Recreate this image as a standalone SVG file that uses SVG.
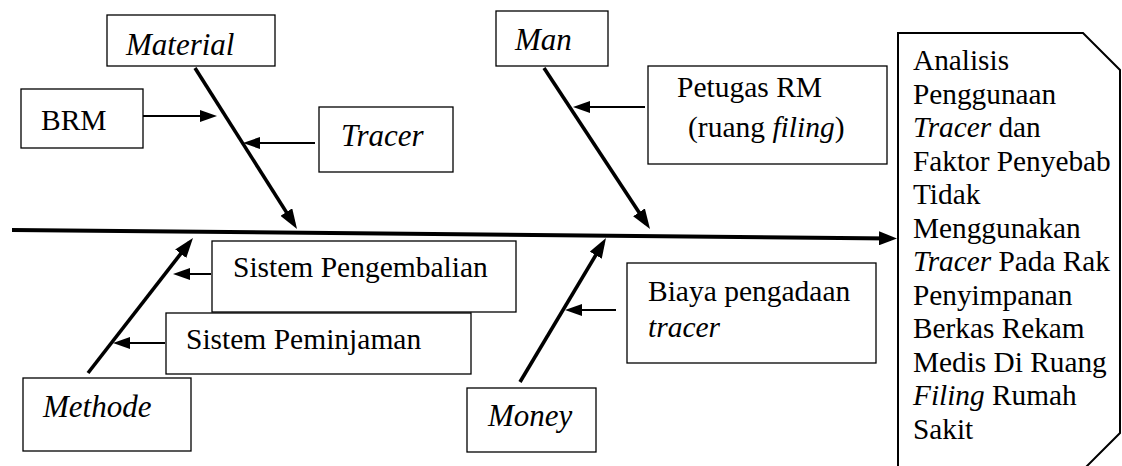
<svg xmlns="http://www.w3.org/2000/svg" width="1122" height="466" viewBox="0 0 1122 466">
<style>
  .box{fill:#fff;stroke:#000;stroke-width:1.3}
  text{font-family:'Times New Roman','Liberation Serif',Tinos,'Noto Serif','DejaVu Serif',FreeSerif,Times,serif;fill:#000}
  .t{font-size:29.5px}
  .ti{font-size:31px;font-style:italic}
  .rt{font-size:29.3px}
  .i{font-style:italic}
  .bone{stroke:#000;stroke-width:3.6;fill:none}
  .spine{stroke:#000;stroke-width:4;fill:none}
  .sm{stroke:#000;stroke-width:2;fill:none}
</style>
<defs>
  <marker id="ah-bone" markerUnits="userSpaceOnUse" markerWidth="20" markerHeight="14" refX="14" refY="7" orient="auto"><path d="M0,0 L20,7 L0,14 z" fill="#000"/></marker>
  <marker id="ah-main" markerUnits="userSpaceOnUse" markerWidth="18" markerHeight="14" refX="12" refY="7" orient="auto"><path d="M0,0 L18,7 L0,14 z" fill="#000"/></marker>
  <marker id="ah-sm" markerUnits="userSpaceOnUse" markerWidth="17" markerHeight="12" refX="13" refY="6" orient="auto"><path d="M0,0 L17,6 L0,12 z" fill="#000"/></marker>
</defs>

<g id="connectors">
  <line class="spine" x1="12" y1="230" x2="891" y2="238.4" marker-end="url(#ah-main)"/>
  <line class="bone" x1="195" y1="68" x2="293.8" y2="223.9" marker-end="url(#ah-bone)"/>
  <line class="bone" x1="544" y1="68" x2="646.7" y2="224" marker-end="url(#ah-bone)"/>
  <line class="bone" x1="88" y1="373" x2="189.3" y2="242.7" marker-end="url(#ah-bone)"/>
  <line class="bone" x1="520" y1="382" x2="602.9" y2="243.2" marker-end="url(#ah-bone)"/>
  <line class="sm" x1="143" y1="116" x2="213" y2="116" marker-end="url(#ah-sm)"/>
  <line class="sm" x1="315" y1="143" x2="247" y2="143" marker-end="url(#ah-sm)"/>
  <line class="sm" x1="645" y1="107" x2="577" y2="107" marker-end="url(#ah-sm)"/>
  <line class="sm" x1="211" y1="274" x2="177" y2="274" marker-end="url(#ah-sm)"/>
  <line class="sm" x1="165" y1="343" x2="117" y2="343" marker-end="url(#ah-sm)"/>
  <line class="sm" x1="616" y1="310" x2="569" y2="310" marker-end="url(#ah-sm)"/>
</g>

<g id="material">
  <rect class="box" x="107" y="15" width="168" height="51"/>
  <text class="ti" x="126" y="55" font-family="Liberation Serif, serif">Material</text>
</g>
<g id="brm">
  <rect class="box" x="21" y="89" width="122" height="59"/>
  <text class="t" x="41" y="130">BRM</text>
</g>
<g id="tracer">
  <rect class="box" x="319" y="107" width="134" height="65"/>
  <text class="ti" x="341" y="146">Tracer</text>
</g>
<g id="man">
  <rect class="box" x="496" y="11" width="112" height="55"/>
  <text class="ti" x="515" y="50">Man</text>
</g>
<g id="petugas">
  <rect class="box" x="648" y="66" width="239" height="98"/>
  <text class="t" x="677" y="97">Petugas RM</text>
  <text class="t" x="688" y="137">(ruang <tspan class="i">filing</tspan>)</text>
</g>
<g id="pengembalian">
  <rect class="box" x="212" y="241" width="304" height="71"/>
  <text class="t" x="233" y="277">Sistem Pengembalian</text>
</g>
<g id="peminjaman">
  <rect class="box" x="166" y="313" width="305" height="61"/>
  <text class="t" x="186" y="349">Sistem Peminjaman</text>
</g>
<g id="methode">
  <rect class="box" x="23" y="378" width="168" height="73"/>
  <text class="ti" x="43" y="417">Methode</text>
</g>
<g id="biaya">
  <rect class="box" x="627" y="263" width="249" height="100"/>
  <text class="t" x="648" y="301">Biaya pengadaan</text>
  <text class="t i" x="648" y="337">tracer</text>
</g>
<g id="money">
  <rect class="box" x="467" y="388" width="129" height="64"/>
  <text class="ti" x="488" y="426">Money</text>
</g>
<g id="effect">
  <path d="M898,470 V33 H1083 L1120,70 V433 L1083,470" fill="#fff" stroke="#000" stroke-width="2"/>
  <text class="rt" x="913" y="70">Analisis</text>
  <text class="rt" x="913" y="103.5">Penggunaan</text>
  <text class="rt" x="913" y="137"><tspan class="i">Tracer</tspan> dan</text>
  <text class="rt" x="913" y="170.5">Faktor Penyebab</text>
  <text class="rt" x="913" y="204">Tidak</text>
  <text class="rt" x="913" y="237.5">Menggunakan</text>
  <text class="rt" x="913" y="271"><tspan class="i">Tracer</tspan> Pada Rak</text>
  <text class="rt" x="913" y="304.5">Penyimpanan</text>
  <text class="rt" x="913" y="338">Berkas Rekam</text>
  <text class="rt" x="913" y="371.5">Medis Di Ruang</text>
  <text class="rt" x="913" y="405"><tspan class="i">Filing</tspan> Rumah</text>
  <text class="rt" x="913" y="438.5">Sakit</text>
</g>
</svg>
